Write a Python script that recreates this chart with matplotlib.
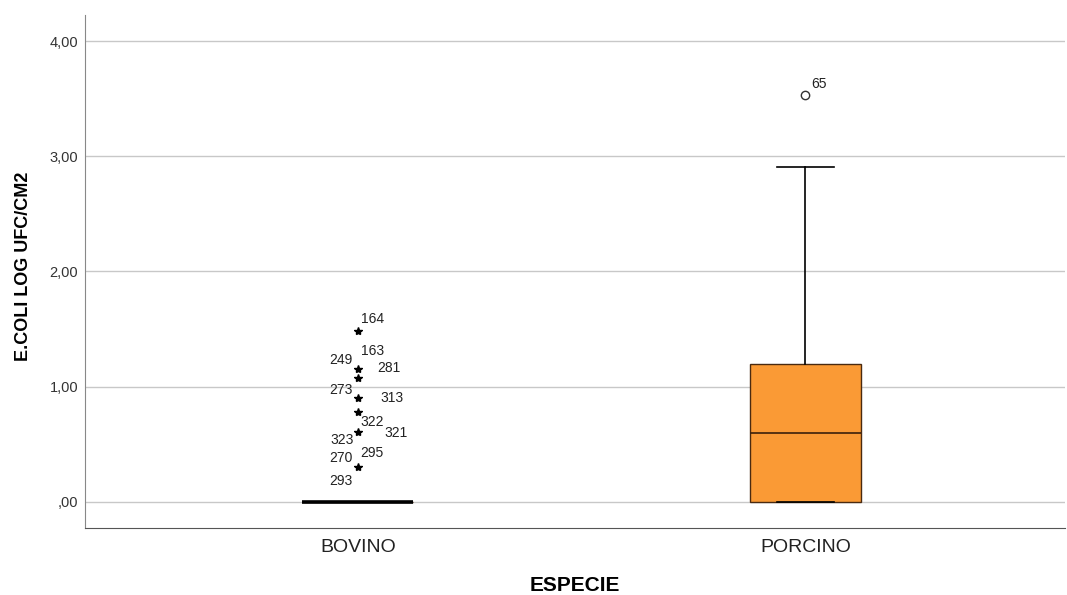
import matplotlib.pyplot as plt
from matplotlib.ticker import FuncFormatter

plt.rcParams['font.family'] = ['Liberation Sans', 'DejaVu Sans']

especies = ['BOVINO', 'PORCINO']
q1 = [0.0, 0.0]
medianas = [0.0, 0.60]
q3 = [0.0, 1.20]
bigote_min = [0.0, 0.0]
bigote_max = [0.0, 2.91]

# valores atipicos extremos (asterisco) de BOVINO con su numero de caso
bov_extremos = [1.48, 1.15, 1.08, 0.90, 0.78, 0.61, 0.30]
bov_casos = [['164'], ['163', '249'], ['281', '273'], ['313'], ['322'],
             ['323', '321'], ['270', '295', '293']]
# valores atipicos (circulo) de PORCINO
por_atipicos = [3.53]
por_casos = ['65']

fig = plt.figure(figsize=(10.67, 5.95), dpi=100)
ax = fig.add_axes([0.0797, 0.1126, 0.9183, 0.8622])

stats = []
for i, nombre in enumerate(especies):
    stats.append({'label': nombre, 'q1': q1[i], 'med': medianas[i], 'q3': q3[i],
                  'whislo': bigote_min[i], 'whishi': bigote_max[i], 'fliers': []})

pos = [1, 2]
ax.bxp(stats, positions=pos, widths=0.248, patch_artist=True, showfliers=False,
       capwidths=0.127,
       boxprops=dict(facecolor='#FA9A35', edgecolor='#4a2a10', linewidth=1.0),
       medianprops=dict(color='#3a200c', linewidth=1.2),
       whiskerprops=dict(color='black', linewidth=1.2),
       capprops=dict(color='black', linewidth=1.2))

# linea plana de BOVINO (caja de altura cero)
ax.hlines(medianas[0], pos[0] - 0.124, pos[0] + 0.124, color='black', linewidth=2.6, zorder=4)

# asteriscos y etiquetas de caso
offsets = {
    '164': (2, 4), '163': (2, 8), '249': (-21, 2), '281': (14, 2), '273': (-21, -14),
    '313': (16, -5), '322': (2, -12), '323': (-20, -11), '321': (19, -6),
    '270': (-21, 2), '295': (2, 5), '293': (-21, -15),
}
for v, casos in zip(bov_extremos, bov_casos):
    ax.plot(pos[0], v, marker='*', color='black', markersize=6, linestyle='none', zorder=5)
    for c in casos:
        ax.annotate(c, (pos[0], v), xytext=offsets[c], textcoords='offset points',
                    fontsize=10, color='#222222', va='bottom', ha='left')

for v, c in zip(por_atipicos, por_casos):
    ax.plot(pos[1], v, marker='o', markerfacecolor='white', markeredgecolor='#333333',
            markersize=6, linestyle='none', zorder=5)
    ax.annotate(c, (pos[1], v), xytext=(4, 3), textcoords='offset points',
                fontsize=10, color='#222222', va='bottom', ha='left')

ax.set_xlim(0.39, 2.58)
ax.set_ylim(-0.226, 4.226)
ax.set_yticks([0, 1, 2, 3, 4])
ax.yaxis.set_major_formatter(FuncFormatter(lambda y, _: ('%.2f' % y).replace('0.', '.', 1 if y < 1 else 0).replace('.', ',')))
ax.grid(axis='y', color='#c8c8c8', linewidth=1.0)
ax.set_axisbelow(True)
ax.tick_params(axis='y', length=0, labelsize=10.5, colors='#333333', pad=5)
ax.tick_params(axis='x', length=0, labelsize=14, colors='#222222', pad=8)
for s in ['top', 'right']:
    ax.spines[s].set_visible(False)
ax.spines['left'].set_color('#888888')
ax.spines['bottom'].set_color('#555555')

ax.set_ylabel('E.COLI LOG UFC/CM2', fontsize=13, fontweight='bold')
ax.yaxis.set_label_coords(-0.054, 0.51)
ax.set_xlabel('ESPECIE', fontsize=15, fontweight='bold', labelpad=14)

fig.savefig('out.png', dpi=100)
